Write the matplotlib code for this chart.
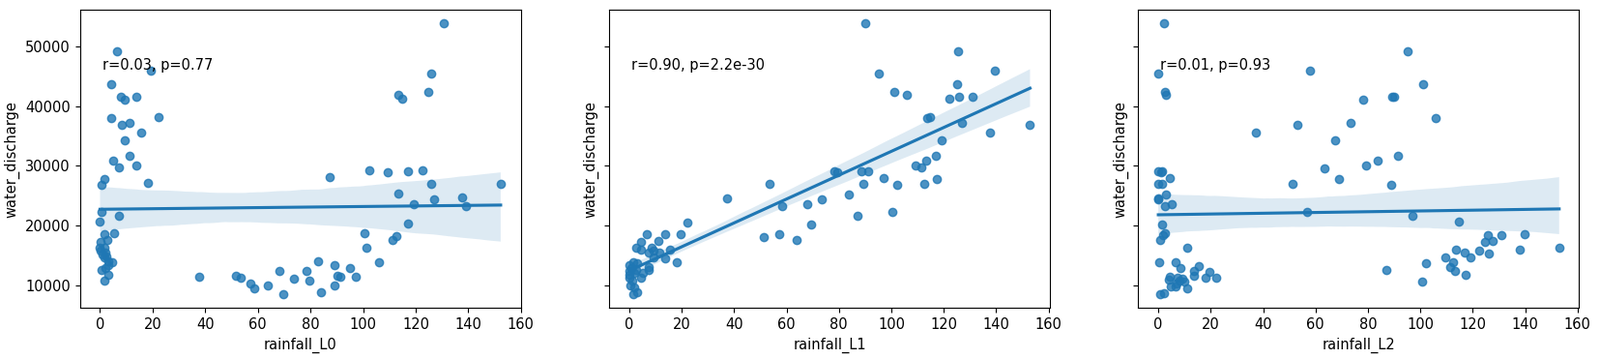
import numpy as np
import matplotlib
matplotlib.use("Agg")
import matplotlib.pyplot as plt
import seaborn as sns

# rainfall (same month) vs water discharge
rain_L0 = [6.6, 19.3, 4.4, 7.8, 9.4, 13.7, 22.2, 4.4, 8.4, 11.2, 15.5, 9.4, 11.1, 4.8,
           13.7, 7.0, 18.1, 1.8, 0.4, 0.7, 7.0, 0.0, 1.5, 5.2, 2.8, 0.3, 0.0, 0.2, 1.5,
           2.1, 2.5, 0.9, 3.3, 1.7, 4.7, 3.1, 0.6, 2.1, 3.1, 1.6, 37.7, 51.7, 53.6, 57.3,
           58.5, 63.9, 68.0, 69.5, 73.6, 130.8, 125.7, 124.9, 113.2, 114.7, 102.2, 109.5,
           116.9, 122.4, 87.2, 126.0, 152.3, 113.2, 127.1, 137.7, 139.1, 119.1, 116.9,
           100.4, 112.6, 111.3, 101.1, 82.8, 105.9, 78.4, 89.0, 95.1, 79.6, 90.1, 91.4,
           97.1, 83.9, 89.0]
wd_L0 = [49200, 46000, 43700, 41600, 41100, 41600, 38200, 37900, 36900, 37100, 35500,
         34200, 31600, 30800, 30100, 29700, 27100, 27700, 26800, 22300, 21600, 20600,
         18600, 18700, 17500, 17300, 16200, 15800, 16200, 15400, 14800, 15100, 14000,
         14600, 13800, 13400, 12500, 12800, 11700, 10800, 11400, 11500, 11200, 10300,
         9500, 9950, 12300, 8500, 11100, 53800, 45500, 42300, 41800, 41300, 29200, 28900,
         29100, 29200, 28100, 26900, 26900, 25300, 24300, 24700, 23200, 23600, 20300,
         18700, 18200, 17500, 16300, 14000, 13800, 12400, 13300, 12900, 10750, 11600,
         11400, 11400, 8800, 9950]

# rainfall lagged one month
rain_L1 = [37.5, 53.5, 58.3, 67.9, 73.3, 69.3, 51.5, 57.2, 63.8, 22.2, 19.6, 13.7, 6.7,
           4.5, 11.2, 2.5, 4.5, 8.6, 9.4, 11.4, 15.6, 7.6, 9.2, 13.7, 18.2, 7.4, 7.4, 5.2,
           4.5, 1.5, 0.0, 2.9, 0.9, 0.0, 2.1, 0.0, 1.2, 0.6, 2.1, 1.5, 3.1, 2.7, 0.2,
           89.9, 125.6, 139.6, 95.1, 124.9, 101.0, 105.8, 122.3, 126.0, 130.8, 113.5,
           114.7, 127.1, 152.9, 137.8, 119.0, 116.8, 113.1, 109.4, 111.3, 78.2, 79.4,
           88.6, 91.0, 97.1, 89.2, 102.1, 112.4, 117.2, 83.7, 87.1, 100.2]
wd_L1 = [24600, 26900, 23200, 23500, 24300, 20200, 18100, 18600, 17500, 20500, 18600,
         18500, 18500, 17300, 17400, 16200, 16000, 16300, 15800, 15500, 16000, 15400,
         14600, 14500, 13800, 13100, 12500, 12000, 11300, 13800, 13300, 13700, 12900,
         12400, 12050, 11250, 10700, 9900, 9600, 8430, 8760, 12600, 11800,
         53800, 49200, 46000, 45500, 43700, 42300, 41800, 41200, 41600, 41600, 37900,
         38200, 37100, 36900, 35500, 34200, 31600, 30800, 30100, 29700, 29100, 28900,
         29100, 29000, 28000, 26900, 26800, 27000, 27700, 25200, 21600, 22200]

# rainfall lagged two months
rain_L2 = [2.0, 0.0, 2.6, 2.9, 57.9, 37.4, 53.2, 73.5, 67.5, 63.6, 68.9, 51.3, 56.8,
           0.0, 1.6, 1.2, 4.3, 0.0, 1.6, 2.9, 0.0, 0.0, 2.6, 5.3, 1.6, 2.4, 1.8, 0.6,
           11.0, 0.2, 6.6, 8.4, 13.6, 15.5, 19.6, 13.6, 18.0, 22.1, 4.3, 4.0, 7.5, 9.2,
           8.2, 9.9, 4.6, 6.7, 7.0, 10.9, 0.6, 2.1,
           95.2, 101.1, 89.2, 90.1, 78.3, 105.9, 91.5, 83.8, 79.4, 89.0, 96.9, 114.7,
           125.9, 124.8, 127.7, 130.9, 139.9, 113.6, 116.9, 119.1, 122.5, 126.1, 137.9,
           153.0, 109.6, 112.6, 111.4, 113.3, 117.3, 102.2, 87.1, 100.6]
wd_L2 = [53800, 45500, 42300, 41800, 46000, 35500, 36900, 37100, 34200, 29600, 27700,
         27000, 22200, 29100, 29000, 28900, 28000, 26900, 26900, 25200, 24600, 24300,
         23200, 23500, 20200, 18700, 18300, 17500, 16200, 13800, 13900, 12800, 12300,
         13200, 12200, 11500, 11300, 11300, 11350, 10900, 11200, 11100, 10700, 10600,
         9800, 9850, 10300, 9400, 8430, 8700,
         49200, 43700, 41600, 41600, 41100, 37900, 31600, 30800, 30100, 26800, 21600,
         20600, 18430, 17240, 17460, 18430, 18590, 16000, 15400, 14700, 15800, 15350,
         16000, 16300, 14600, 13800, 13100, 12400, 11700, 13600, 12500, 10650]

lag_names = ["rainfall_L0", "rainfall_L1", "rainfall_L2"]
stats_text = ["r=0.03, p=0.77", "r=0.90, p=2.2e-30", "r=0.01, p=0.93"]

plt.rcParams['font.size'] = 10.5

fig, axes = plt.subplots(1, 3, figsize=(16.55, 3.71), dpi=100, sharey=True)
fig.subplots_adjust(left=0.050, right=0.987, bottom=0.142, top=0.972, wspace=0.2)

data = [(rain_L0, wd_L0), (rain_L1, wd_L1), (rain_L2, wd_L2)]
for ax, (x, y), name, txt in zip(axes, data, lag_names, stats_text):
    sns.regplot(x=np.array(x), y=np.array(y), ax=ax, seed=1)
    ax.set_xlabel(name)
    ax.set_ylabel("water_discharge")
    ax.text(0.05, 0.8, txt, transform=ax.transAxes)
    ax.set_xticks([0, 20, 40, 60, 80, 100, 120, 140, 160])

plt.savefig("out.png")
